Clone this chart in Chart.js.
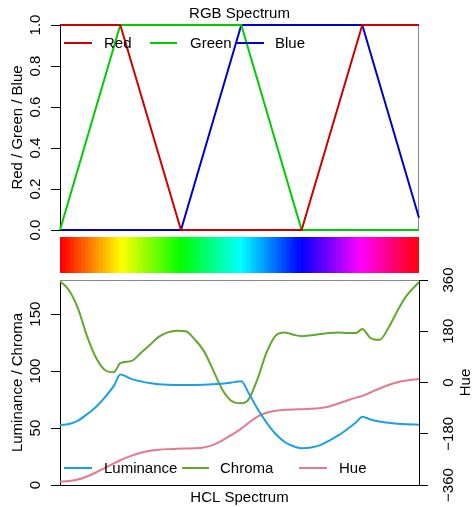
<!DOCTYPE html>
<html>
<head>
<meta charset="utf-8">
<script src="https://cdn.jsdelivr.net/npm/chart.js@4.4.1/dist/chart.umd.min.js"></script>
<style>
body { margin: 0; background: #fff; }
#wrap { position: relative; width: 472px; height: 507px; }
canvas { position: absolute; left: 0; top: 0; }
</style>
</head>
<body>
<div id="wrap">
  <canvas id="rgb" width="472" height="507"></canvas>
  <canvas id="strip" width="472" height="507"></canvas>
  <canvas id="hcl" width="472" height="507"></canvas>
</div>
<script>
// RGB breakpoints (position along palette 0..1, channel value)
const redX = [0, 0.168, 0.337, 0.673, 0.842, 1];
const redY = [1, 1, 0, 0, 1, 1];
const greenX = [0, 0.168, 0.505, 0.673, 1];
const greenY = [0, 1, 1, 0, 0];
const blueX = [0, 0.337, 0.505, 0.842, 1];
const blueY = [0, 0, 1, 1, 0.06];
const rgbTicks = [0, 0.2, 0.4, 0.6, 0.8, 1];

// HCL coordinates
const hclPos = [0, 0.025, 0.05, 0.075, 0.1, 0.125, 0.15, 0.168,
  0.2, 0.225, 0.25, 0.275, 0.3, 0.325, 0.35, 0.375, 0.4, 0.425, 0.45, 0.475,
  0.505, 0.525, 0.55, 0.575, 0.6, 0.625, 0.65, 0.673,
  0.7, 0.725, 0.75, 0.775, 0.8, 0.825, 0.842,
  0.865, 0.89, 0.915, 0.94, 0.965, 1];
const luminance = [52.6, 53.5, 56.5, 62, 68.5, 77, 87, 97,
  93, 91, 89.5, 88.5, 88, 87.8, 87.7, 87.8, 88, 88.4, 89, 89.8,
  91, 81, 67, 55, 45, 38, 34, 32.3,
  33, 35, 39, 43.5, 49, 55, 60,
  57.5, 55.8, 54.6, 53.8, 53.3, 53];
const chroma = [179, 171, 155, 131, 112, 101, 99, 107,
  109, 116, 123, 130, 134, 135.5, 135, 128, 118, 102, 85, 74.5,
  71.8, 75, 93, 116, 131, 134, 132, 130.7,
  131.5, 132.5, 133.5, 134, 133.5, 133.5, 137,
  129, 127.5, 138, 153, 166, 178];
const hue = [-348, -346, -341, -330, -316, -300, -284, -273,
  -257, -247, -240, -236, -234, -233, -232, -231, -228, -220, -205, -186,
  -162, -142, -120, -106, -99, -96, -94.5, -94,
  -92.5, -89.5, -84, -74, -63, -53, -47,
  -35, -21, -9, 1, 7, 12];
const lcTicks = [0, 50, 100, 150];
const hueTicks = [-360, -180, 0, 180, 360];

// palette swatches
const stripN = 100;

const FONT = '"Liberation Sans", Arial, Helvetica, sans-serif';
Chart.defaults.font.family = FONT;
Chart.defaults.font.size = 15;
Chart.defaults.color = '#000';

function pts(xs, ys) {
	return xs.map((x, i) => ({x: x, y: ys[i]}));
}
function fixTicks(list) {
	return s => { s.ticks = list.map(v => ({value: v})); };
}
function num(v) {
	return v < 0 ? '\u2212' + Math.abs(v) : String(v);
}

//draws the grey frame, rotated tick labels, titles and the legend
var rAxes = {
	id: 'rAxes',
	beforeDatasetsDraw(chart, args, o) {
		var a = chart.chartArea, ctx = chart.ctx;
		if (!o.frame) return;
		ctx.save();
		ctx.strokeStyle = '#888';
		ctx.lineWidth = 1;
		ctx.beginPath();
		if (o.frame.indexOf('top') >= 0) { ctx.moveTo(a.left, a.top + 0.5); ctx.lineTo(a.right, a.top + 0.5); }
		if (o.frame.indexOf('right') >= 0) { ctx.moveTo(a.right - 0.5, a.top); ctx.lineTo(a.right - 0.5, a.bottom); }
		if (o.frame.indexOf('bottom') >= 0) { ctx.moveTo(a.left, a.bottom - 0.5); ctx.lineTo(a.right, a.bottom - 0.5); }
		ctx.stroke();
		ctx.restore();
	},
	afterDraw(chart, args, o) {
		var a = chart.chartArea, ctx = chart.ctx;
		ctx.save();
		ctx.fillStyle = '#000';
		ctx.font = '15px ' + FONT;
		ctx.textBaseline = 'alphabetic';
		ctx.textAlign = 'center';
		(o.tickLabels || []).forEach(t => {
			var s = chart.scales[t.scale];
			s.ticks.forEach(tk => {
				ctx.save();
				ctx.translate(t.x, s.getPixelForValue(tk.value));
				ctx.rotate(-Math.PI / 2);
				ctx.fillText(t.fmt(tk.value), 0, 0);
				ctx.restore();
			});
		});
		(o.titles || []).forEach(t => {
			ctx.save();
			ctx.translate(t.x, (a.top + a.bottom) / 2);
			ctx.rotate(-Math.PI / 2);
			ctx.fillText(t.text, 0, 0);
			ctx.restore();
		});
		if (o.main) ctx.fillText(o.main.text, o.main.x, o.main.y);
		if (o.legend) {
			ctx.textAlign = 'left';
			chart.data.datasets.forEach((d, i) => {
				var it = o.legend.items[i];
				ctx.strokeStyle = d.borderColor;
				ctx.lineWidth = 2;
				ctx.beginPath();
				ctx.moveTo(it[0], o.legend.y);
				ctx.lineTo(it[1], o.legend.y);
				ctx.stroke();
				ctx.fillStyle = '#000';
				ctx.fillText(d.label, it[2], o.legend.y + 5.3);
			});
		}
		ctx.restore();
	}
};

var axisGrid = {drawOnChartArea: false, tickLength: 9, color: '#000', lineWidth: 1};

new Chart(document.querySelector('#rgb'), {
	type: 'line',
	data: {
		datasets: [
			{label: 'Red', data: pts(redX, redY), borderColor: '#CD0000'},
			{label: 'Green', data: pts(greenX, greenY), borderColor: '#00CD00'},
			{label: 'Blue', data: pts(blueX, blueY), borderColor: '#0000CD'}
		]
	},
	options: {
		responsive: false,
		animation: false,
		layout: {padding: {left: 0, right: 53, top: 25, bottom: 277}},
		elements: {point: {radius: 0}, line: {borderWidth: 2, tension: 0, fill: false}},
		datasets: {line: {clip: 3}},
		plugins: {
			legend: {display: false},
			tooltip: {enabled: false},
			rAxes: {
				frame: ['top', 'right', 'bottom'],
				main: {text: 'RGB Spectrum', x: 239.5, y: 18.3},
				tickLabels: [{scale: 'y', x: 39.5, fmt: v => v.toFixed(1)}],
				titles: [{text: 'Red / Green / Blue', x: 21.5}],
				legend: {y: 43, items: [[64, 92, 104], [150, 177, 190], [236, 264, 275]]}
			}
		},
		scales: {
			x: {type: 'linear', min: 0, max: 1, display: false},
			y: {
				type: 'linear', min: 0, max: 1, position: 'left',
				afterFit: s => { s.width = 60; },
				afterBuildTicks: fixTicks(rgbTicks),
				ticks: {display: false},
				grid: axisGrid,
				border: {color: '#000'}
			}
		}
	},
	plugins: [rAxes]
});

// colour strip: one cell per palette colour
var stripLabels = [], stripCells = [], stripColors = [];
for (var i = 0; i < stripN; i++) {
	stripLabels.push(i);
	stripCells.push(1);
	stripColors.push('hsl(' + (360 * i / stripN) + ',100%,50%)');
}
new Chart(document.querySelector('#strip'), {
	type: 'bar',
	data: {
		labels: stripLabels,
		datasets: [{data: stripCells, backgroundColor: stripColors, borderWidth: 0, barPercentage: 1, categoryPercentage: 1}]
	},
	options: {
		responsive: false,
		animation: false,
		layout: {padding: {left: 60, right: 53, top: 237, bottom: 234}},
		plugins: {legend: {display: false}, tooltip: {enabled: false}},
		scales: {
			x: {display: false},
			y: {display: false, min: 0, max: 1}
		}
	}
});

new Chart(document.querySelector('#hcl'), {
	type: 'line',
	data: {
		datasets: [
			{label: 'Luminance', data: pts(hclPos, luminance), borderColor: '#1BA1E2', yAxisID: 'y'},
			{label: 'Chroma', data: pts(hclPos, chroma), borderColor: '#62A82C', yAxisID: 'y'},
			{label: 'Hue', data: pts(hclPos, hue), borderColor: '#E3798F', yAxisID: 'y1'}
		]
	},
	options: {
		responsive: false,
		animation: false,
		layout: {padding: {left: 0, right: 0, top: 280, bottom: 0}},
		elements: {point: {radius: 0}, line: {borderWidth: 2, cubicInterpolationMode: 'monotone', fill: false}},
		datasets: {line: {clip: 3}},
		plugins: {
			legend: {display: false},
			tooltip: {enabled: false},
			rAxes: {
				frame: ['top'],
				tickLabels: [
					{scale: 'y', x: 39.5, fmt: num},
					{scale: 'y1', x: 452.5, fmt: num}
				],
				titles: [
					{text: 'Luminance / Chroma', x: 21.5},
					{text: 'Hue', x: 469.5}
				],
				legend: {y: 468, items: [[64, 92, 104], [182, 209, 220], [299, 327, 339]]}
			}
		},
		scales: {
			x: {
				type: 'linear', min: 0, max: 1, position: 'bottom',
				afterFit: s => { s.height = 22; },
				ticks: {display: false},
				grid: {display: false},
				border: {color: '#000'},
				title: {display: true, text: 'HCL Spectrum', color: '#000', font: {size: 15}, padding: {top: 0, bottom: 0}}
			},
			y: {
				type: 'linear', min: 0, max: 180, position: 'left',
				afterFit: s => { s.width = 60; },
				afterBuildTicks: fixTicks(lcTicks),
				ticks: {display: false},
				grid: axisGrid,
				border: {color: '#000'}
			},
			y1: {
				type: 'linear', min: -360, max: 360, position: 'right',
				afterFit: s => { s.width = 53; },
				afterBuildTicks: fixTicks(hueTicks),
				ticks: {display: false},
				grid: axisGrid,
				border: {color: '#000'}
			}
		}
	},
	plugins: [rAxes]
});
</script>
</body>
</html>
